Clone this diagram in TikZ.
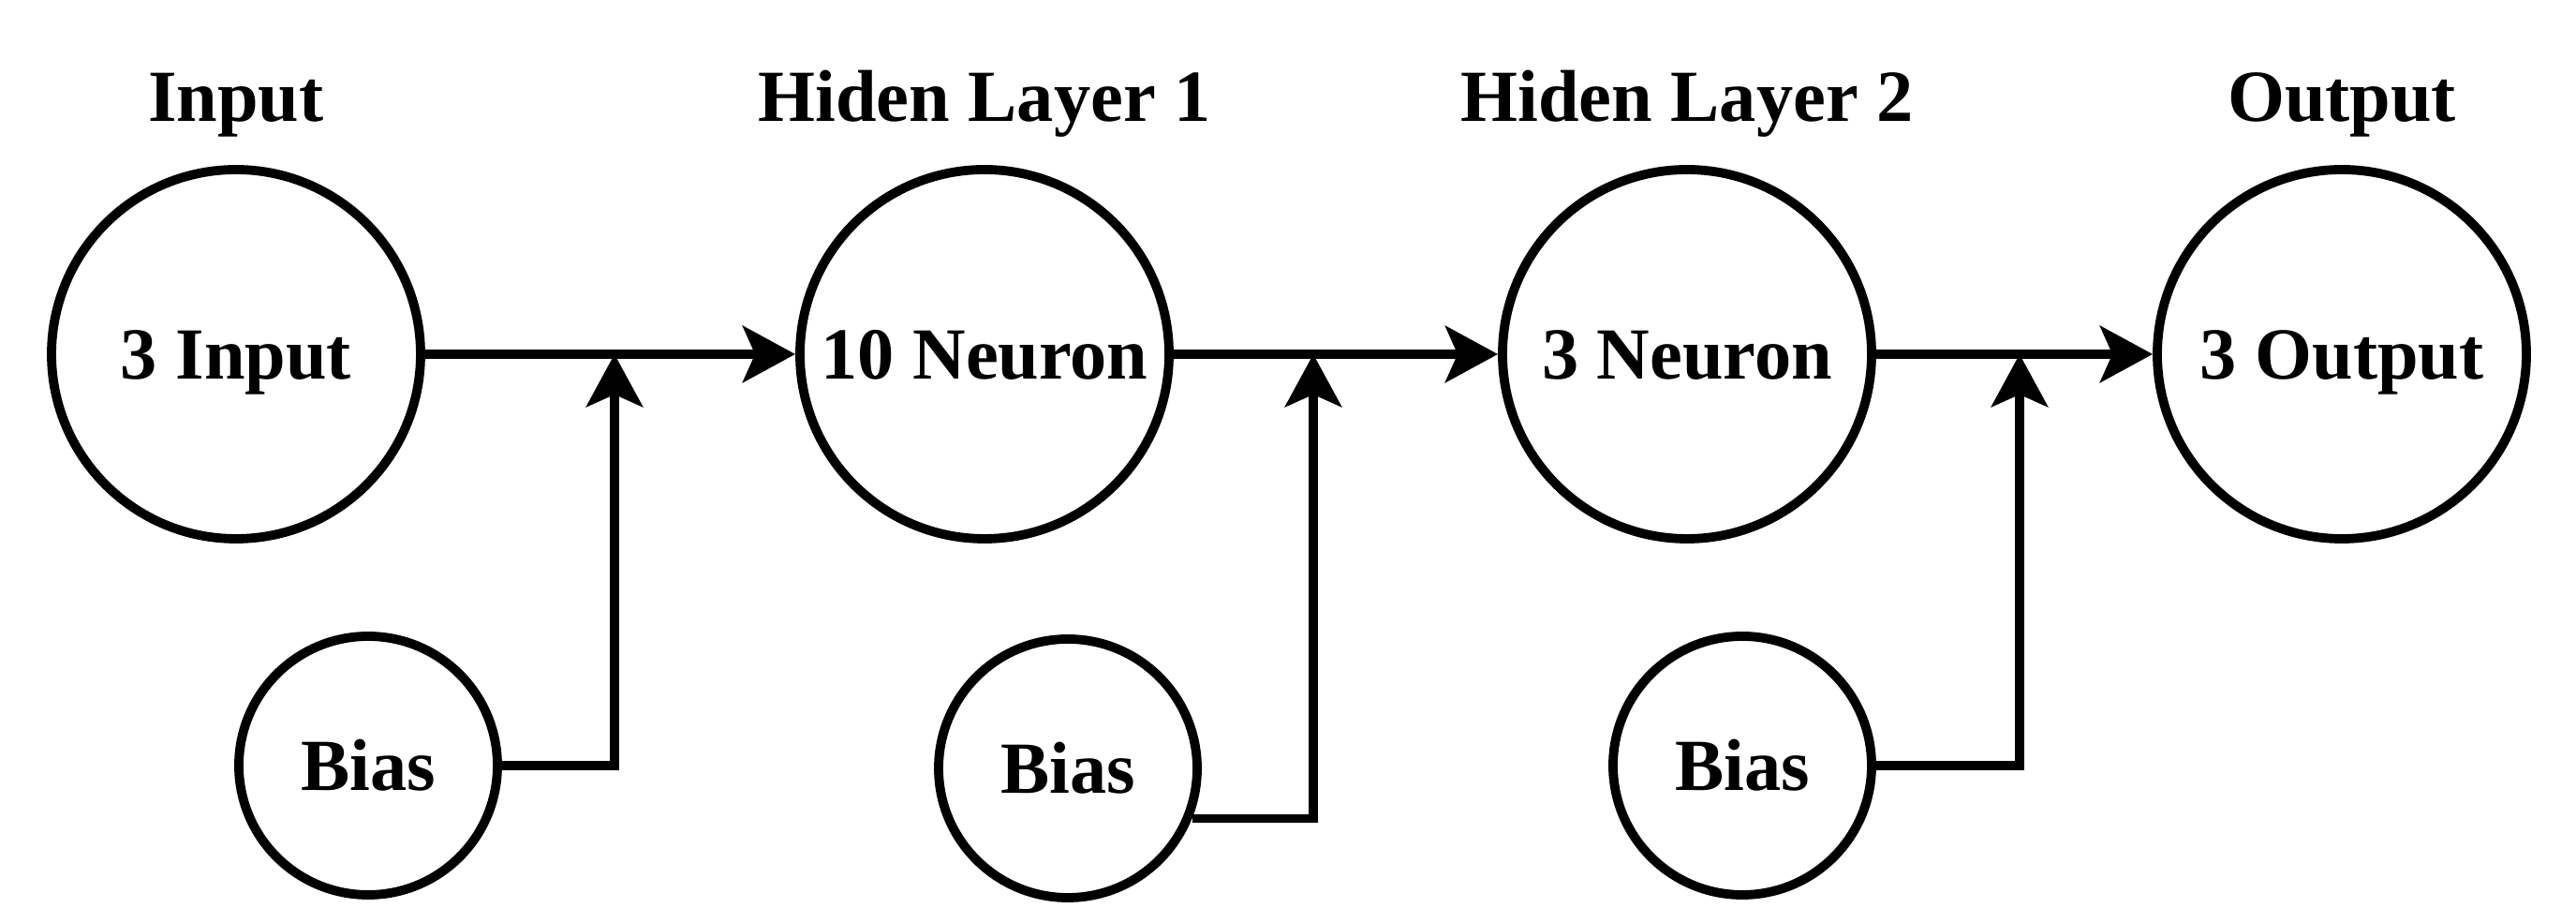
\documentclass[tikz,border=0pt]{standalone}
\usepackage{fontspec}
\setmainfont{Liberation Serif}
\usepackage{tikz}
\usetikzlibrary{arrows.meta, positioning, calc}

\begin{document}
\begin{tikzpicture}[
        layer/.style={circle, draw, line width=2.8pt, minimum size=3.94cm, inner sep=0pt,
            font=\fontsize{22.3}{26}\selectfont\bfseries, text height=0.70cm, text depth=0.16cm},
        bias/.style={layer, minimum size=2.76cm},
        title/.style={font=\fontsize{22.3}{26}\selectfont\bfseries, text height=0.70cm, text depth=0.16cm, inner sep=0pt},
        link/.style={line width=2.8pt, -{Stealth[length=5.6mm, width=6mm, inset=1.3mm]}}
    ]

        % Canvas
        \useasboundingbox (0,0) rectangle (27.5,9.85);

        % Layers
        \node[layer] (in)  at (2.52,6.07)  {3 Input};
        \node[layer] (hl1) at (10.51,6.07) {10 Neuron};
        \node[layer] (hl2) at (18.01,6.07) {3 Neuron};
        \node[layer] (out) at (25.00,6.07) {3 Output};

        % Layer titles
        \node[title] (tin)  at (2.52,8.82)  {Input};
        \node[title] (thl1) at (10.51,8.82) {Hiden Layer 1};
        \node[title] (thl2) at (18.01,8.82) {Hiden Layer 2};
        \node[title] (tout) at (25.00,8.82) {Output};

        % Bias units
        \node[bias] (b1) at (3.93,1.68)  {Bias};
        \node[bias] (b2) at (11.40,1.65) {Bias};
        \node[bias] (b3) at (18.60,1.68) {Bias};

        % Points where the bias joins the main line
        \coordinate (j1) at (6.56,6.07);
        \coordinate (j2) at (14.02,6.07);
        \coordinate (j3) at (21.56,6.07);

        % Forward connections
        \draw[link] (in) -- (hl1);
        \draw[link] (hl1) -- (hl2);
        \draw[link] (hl2) -- (out);

        % Bias connections
        \draw[link] (b1.east) -| (j1);
        \draw[link] (b2.-22) -| (j2);
        \draw[link] (b3.east) -| (j3);

    \end{tikzpicture}
\end{document}
